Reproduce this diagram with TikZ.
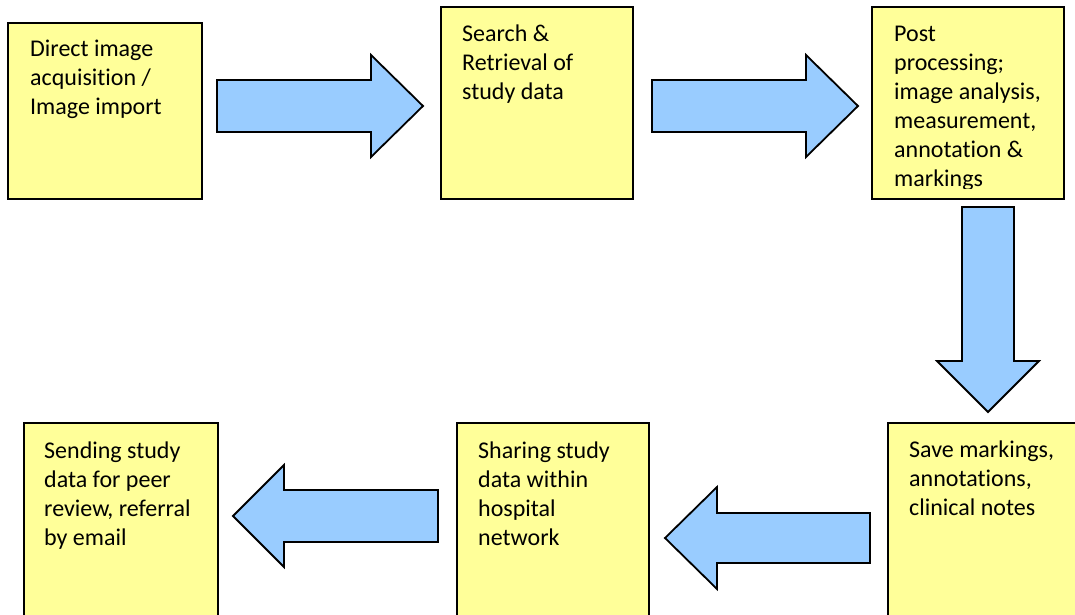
\documentclass[tikz,border=0pt]{standalone}
\usepackage{fontspec}
\setmainfont{Carlito}[Ligatures=NoCommon]
\definecolor{boxyellow}{HTML}{FFFF99}
\definecolor{arrowblue}{HTML}{99CCFF}
\tikzset{
  stagebox/.style={draw=black, line width=1.8pt, fill=boxyellow, rectangle, inner sep=0pt},
  stagetext/.style={anchor=base west, inner sep=0pt, font={\fontsize{24}{29}\selectfont}},
  blockarrow/.style={draw=black, line width=1.8pt, fill=arrowblue},
}
\begin{document}
\begin{tikzpicture}[x=1pt,y=-1pt]
\useasboundingbox (0,0) rectangle (1075,615);
\fill[white] (0,0) rectangle (1075,615);
\clip (0,0) rectangle (1075,615);
% boxes
\node[stagebox, minimum width=194pt, minimum height=176pt] (b1) at (105,111) {};
\node[stagebox, minimum width=192pt, minimum height=192pt] (b2) at (537,103) {};
\node[stagebox, minimum width=192pt, minimum height=192pt] (b3) at (968,103) {};
\node[stagebox, minimum width=194pt, minimum height=200pt] (b4) at (985,523) {};
\node[stagebox, minimum width=192pt, minimum height=200pt] (b5) at (553,523) {};
\node[stagebox, minimum width=194pt, minimum height=200pt] (b6) at (121,523) {};
% texts
\node[stagetext] (t1) at (30,57) {\begin{tabular}[t]{@{}l@{}}Direct image\\acquisition /\\Image import\end{tabular}};
\node[stagetext] (t2) at (462,42) {\begin{tabular}[t]{@{}l@{}}Search \&\\Retrieval of\\study data\end{tabular}};
\begin{scope}
\clip (872,7) rectangle (1064,188);
\node[stagetext] (t3) at (894,42) {\begin{tabular}[t]{@{}l@{}}Post\\processing;\\image analysis,\\measurement,\\annotation \&\\markings\end{tabular}};
\end{scope}
\node[stagetext] (t4) at (909,457) {\begin{tabular}[t]{@{}l@{}}Save markings,\\annotations,\\clinical notes\end{tabular}};
\node[stagetext] (t5) at (478,458) {\begin{tabular}[t]{@{}l@{}}Sharing study\\data within\\hospital\\network\end{tabular}};
\node[stagetext] (t6) at (44,458) {\begin{tabular}[t]{@{}l@{}}Sending study\\data for peer\\review, referral\\by email\end{tabular}};
% block arrows
\draw[blockarrow] (217,80) -- (371,80) -- (371,55) -- (423,106) -- (371,157) -- (371,132) -- (217,132) -- cycle;
\draw[blockarrow] (652,80) -- (806,80) -- (806,55) -- (858,106) -- (806,157) -- (806,132) -- (652,132) -- cycle;
\draw[blockarrow] (962,207) -- (1014,207) -- (1014,361) -- (1039,361) -- (988,412) -- (937,361) -- (962,361) -- cycle;
\draw[blockarrow] (870,513) -- (717,513) -- (717,487) -- (665,538) -- (717,589) -- (717,563) -- (870,563) -- cycle;
\draw[blockarrow] (438,490) -- (284,490) -- (284,465) -- (233,516) -- (284,567) -- (284,542) -- (438,542) -- cycle;
\end{tikzpicture}
\end{document}
